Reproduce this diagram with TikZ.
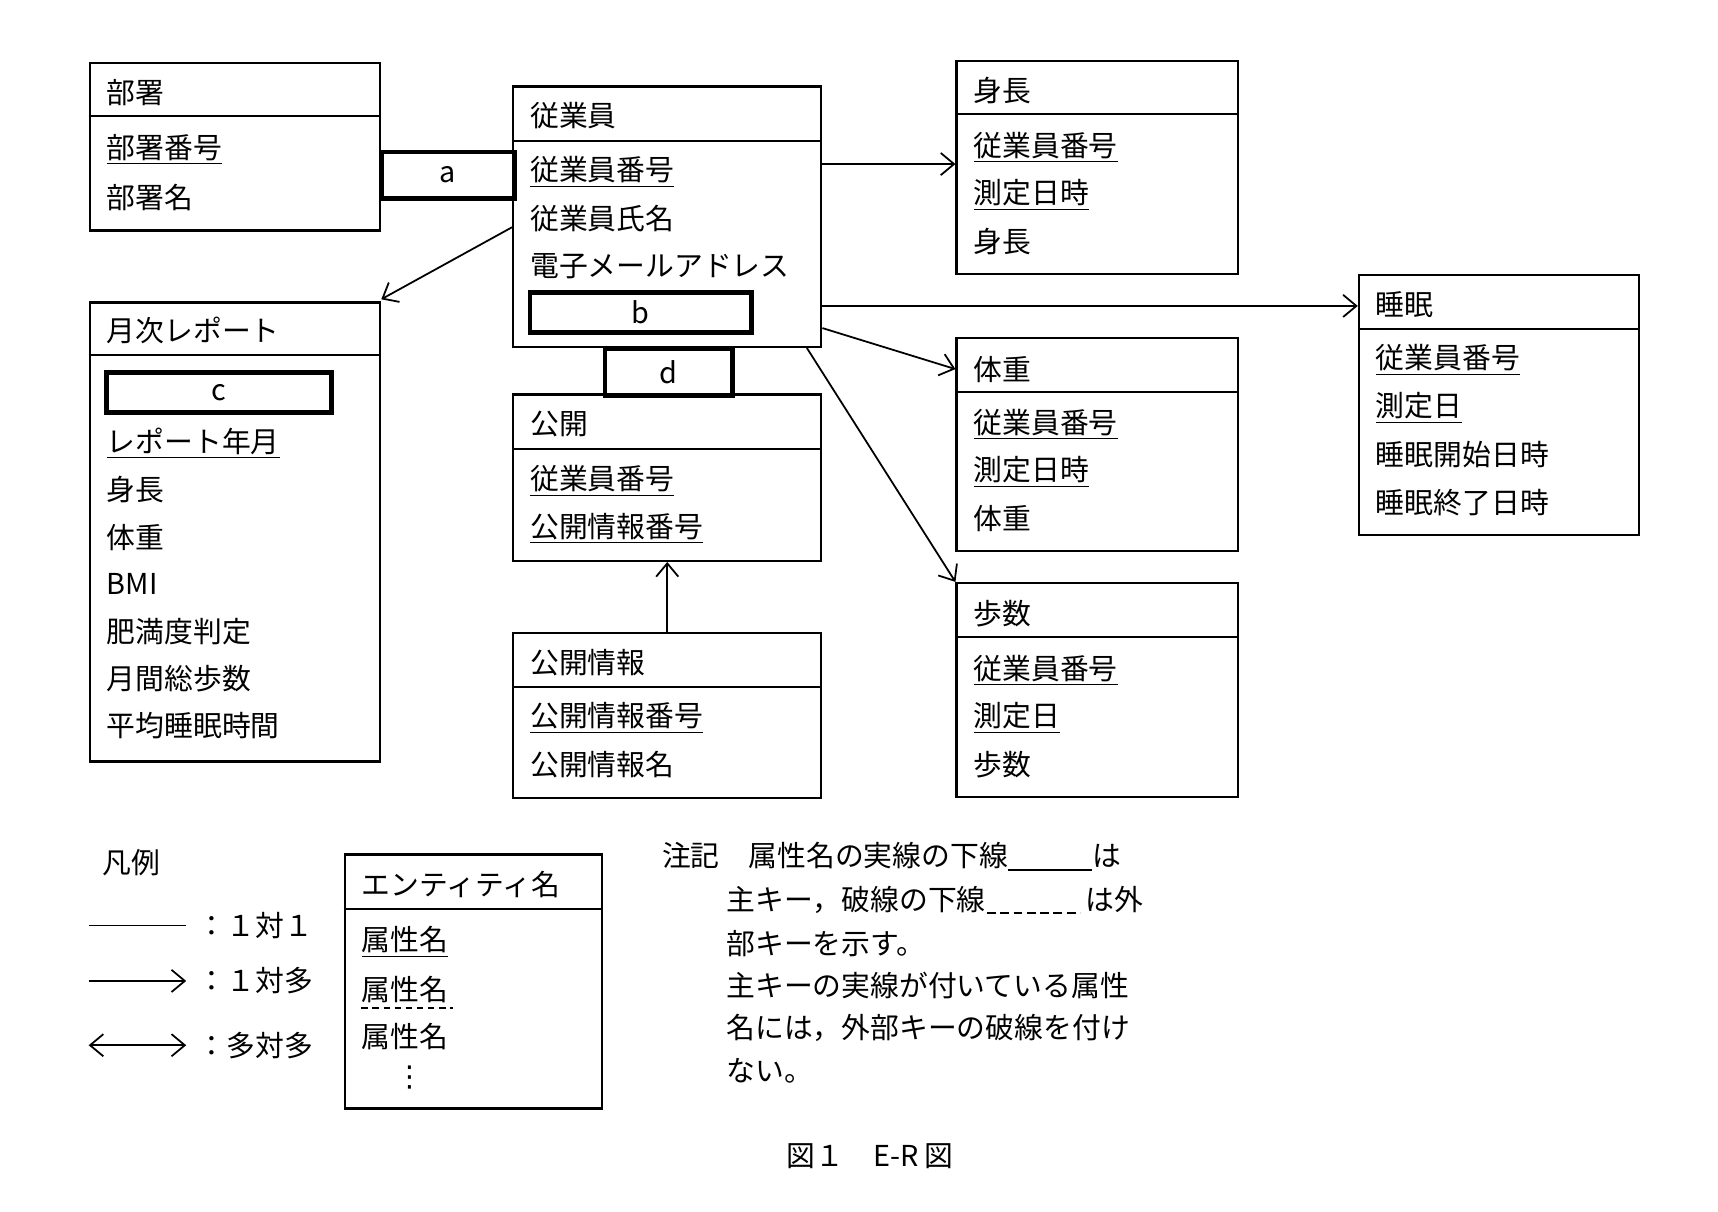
\documentclass[tikz,border=0pt]{standalone}
\usepackage{fontspec}
\setmainfont{Noto Sans CJK JP}
\newfontfamily\symfont{DejaVu Sans}
\usetikzlibrary{calc,arrows.meta}
\tikzset{
  ent/.style={draw,line width=1pt,anchor=north west,inner sep=0pt},
  att/.style={anchor=west,inner sep=0pt,font=\fontsize{13}{15}\selectfont},
  thk/.style={draw,line width=2pt,anchor=north west,inner sep=0pt},
  rel/.style={line width=0.8pt,-{Straight Barb[length=6pt,width=10pt]}}
}
\newcommand{\entbox}[6]{\node[ent,minimum width=#4*0.5pt,minimum height=#5*0.5pt] (#1) at (#2,#3) {};
  \draw[line width=1pt] ($(#1.north west)+(0,#6)$) -- ($(#1.north east)+(0,#6)$);}
\newcommand{\ul}[1]{\underline{#1}}
\begin{document}
\begin{tikzpicture}[x=0.5pt,y=-0.5pt]
\useasboundingbox (0,0) rectangle (1550,1093);
%entities
\entbox{busho}{80}{56}{262}{151}{49}
\entbox{emp}{462}{77}{278}{235}{50}
\entbox{height}{862}{54}{254}{192}{49}
\entbox{sleep}{1225}{247}{253}{235}{50}
\entbox{weight}{862}{304}{254}{192}{50}
\entbox{steps}{862}{525}{254}{193}{50}
\entbox{report}{80}{272}{262}{414}{48}
\entbox{pub}{462}{355}{278}{150}{50}
\entbox{pubinfo}{462}{570}{278}{149}{50}
%blank boxes
\node[thk,minimum width=60pt,minimum height=21pt] (a) at (342,135) {};
\node[att,anchor=center] at (a) {a};
\node[thk,minimum width=57.5pt,minimum height=21pt] (d) at (544,313) {};
\node[att,anchor=center] at (d) {d};
\node[thk,minimum width=100pt,minimum height=18pt] (b) at (476,262) {};
\node[att,anchor=center] at (b) {b};
\node[thk,minimum width=101.5pt,minimum height=18pt] (c) at (94,334) {};
\node[att,anchor=center] at (c) {c};
%texts
\node[att] at (96,84) {部署};
\node[att] at (96,135) {\ul{部署番号}};
\node[att] at (96,178) {部署名};
\node[att] at (478,104) {従業員};
\node[att] at (478,155) {\ul{従業員番号}};
\node[att] at (478,197) {従業員氏名};
\node[att] at (478,240) {電子メールアドレス};
\node[att] at (878,82) {身長};
\node[att] at (878,133) {\ul{従業員番号}};
\node[att] at (878,176) {\ul{測定日時}};
\node[att] at (878,218) {身長};
\node[att] at (1241,275) {睡眠};
\node[att] at (1241,325) {\ul{従業員番号}};
\node[att] at (1241,368) {\ul{測定日}};
\node[att] at (1241,410) {睡眠開始日時};
\node[att] at (1241,453) {睡眠終了日時};
\node[att] at (878,333) {体重};
\node[att] at (878,383) {\ul{従業員番号}};
\node[att] at (878,426) {\ul{測定日時}};
\node[att] at (878,468) {体重};
\node[att] at (878,554) {歩数};
\node[att] at (878,605) {\ul{従業員番号}};
\node[att] at (878,648) {\ul{測定日}};
\node[att] at (878,690) {歩数};
\node[att] at (96,298) {月次レポート};
\node[att] at (96,400) {\ul{レポート年月}};
\node[att] at (96,442) {身長};
\node[att] at (96,485) {体重};
\node[att] at (96,527) {BMI};
\node[att] at (96,570) {肥満度判定};
\node[att] at (96,612) {月間総歩数};
\node[att] at (96,655) {平均睡眠時間};
\node[att] at (478,383) {公開};
\node[att] at (478,434) {\ul{従業員番号}};
\node[att] at (478,477) {\ul{公開情報番号}};
\node[att] at (478,598) {公開情報};
\node[att] at (478,648) {\ul{公開情報番号}};
\node[att] at (478,690) {公開情報名};
%relationships
\draw[rel] ($(emp.north east)+(0,71)$) -- ($(height.north west)+(0,94)$);
\draw[rel] ($(emp.north east)+(0,199)$) -- ($(sleep.north west)+(0,29)$);
\draw[rel] ($(emp.north east)+(0,219)$) -- ($(weight.north west)+(0,29)$);
\draw[rel] ($(emp.south east)+(-14,0)$) -- (steps.north west);
\draw[rel] ($(emp.north west)+(0,128)$) -- ($(report.north east)+(0,-2)$);
\draw[rel] (pubinfo.north) -- (pub.south);
%legend
\node[att] (legend) at (92,778) {凡例};
\coordinate (l1) at (80,835); \coordinate (r1) at (168,835);
\coordinate (l2) at (80,885); \coordinate (r2) at (168,885);
\coordinate (l3) at (80,943); \coordinate (r3) at (168,943);
\draw[line width=0.8pt] (l1) -- (r1);
\draw[rel] (l2) -- (r2);
\draw[line width=0.8pt,{Straight Barb[length=6pt,width=10pt]}-{Straight Barb[length=6pt,width=10pt]}] (l3) -- (r3);
\node[att] at (178,835) {：１対１};
\node[att] at (178,885) {：１対多};
\node[att] at (178,943) {：多対多};
\entbox{sample}{310}{770}{232}{229}{50}
\node[att] at (326,798) {エンティティ名};
\node[att] at (326,850) {\ul{属性名}};
\node[att] (fk) at (326,893) {属性名};
\draw[line width=0.8pt,dash pattern=on 3pt off 2pt] ($(fk.south west)+(0,4)$) -- ($(fk.south east)+(4,4)$);
\node[att] at (326,935) {属性名};
\node[att,anchor=center,font=\symfont\fontsize{13}{15}\selectfont] at (370,972) {⋮};
%note
\node[att] at (597,773) {注記　属性名の実線の下線\rule[-2pt]{38pt}{1pt}は};
\node[att] at (655,812) {主キー，破線の下線\tikz[baseline]\draw[line width=1pt,dash pattern=on 4pt off 2pt](0,-1pt)--(42pt,-1pt);\,は外};
\node[att] at (655,851) {部キーを示す。};
\node[att] at (655,889) {主キーの実線が付いている属性};
\node[att] at (655,927) {名には，外部キーの破線を付け};
\node[att] at (655,966) {ない。};
\node[att,anchor=center] at (785,1043) {図１　E-R 図};
\end{tikzpicture}
\end{document}
